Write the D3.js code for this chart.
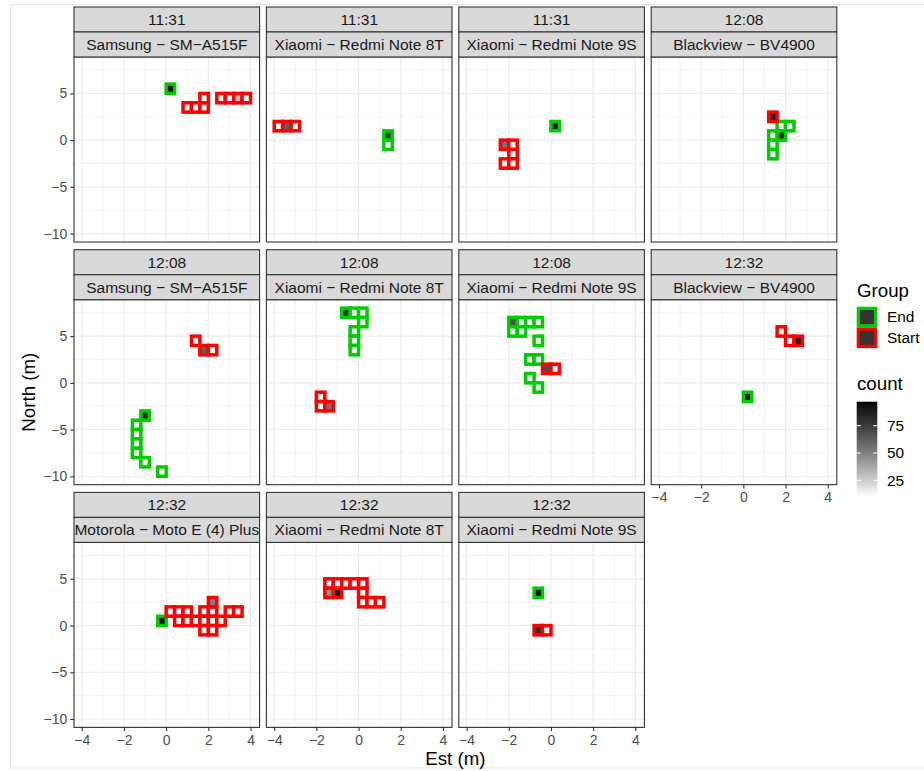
<!DOCTYPE html>
<html><head><meta charset="utf-8">
<script src="https://cdn.jsdelivr.net/npm/d3@7"></script>
<style>
body{margin:0;background:#fff}
svg{display:block}
text{font-family:"Liberation Sans",Arial,Helvetica,sans-serif}
.tick text{font-size:14px}
</style>
</head><body>
<svg id="chart" width="924" height="771"></svg>
<script>
// ---------------- DATA ----------------
const panelTimes = ["11:31","11:31","11:31","12:08","12:08","12:08","12:08","12:32","12:32","12:32","12:32"];
const panelDevices = [
  "Samsung − SM−A515F","Xiaomi − Redmi Note 8T","Xiaomi − Redmi Note 9S","Blackview − BV4900",
  "Samsung − SM−A515F","Xiaomi − Redmi Note 8T","Xiaomi − Redmi Note 9S","Blackview − BV4900",
  "Motorola − Moto E (4) Plus","Xiaomi − Redmi Note 8T","Xiaomi − Redmi Note 9S"
];
const groups = ["End","Start"];
const groupColors = ["#00CD00","#FF0000"];
const binWidthX = 0.4, binWidthY = 1;
const xTicks = [-4,-2,0,2,4];
const yTicks = [-10,-5,0,5];
const xMinor = [-3,-1,1,3];
const yMinor = [-7.5,-2.5,2.5,7.5];
const countTicks = [25,50,75];

// tiles: [x centre, y centre, count]
const end_p1 = [[0.2,5.5,97]];
const start_p1 = [[1.0,3.5,11],[1.4,3.5,10],[1.8,3.5,12],[1.8,4.5,11],[2.6,4.5,12],[3.0,4.5,11],[3.4,4.5,30],[3.8,4.5,10]];
const end_p2 = [[1.4,0.5,75],[1.4,-0.5,11]];
const start_p2 = [[-3.8,1.5,11],[-3.4,1.5,62],[-3.0,1.5,10]];
const end_p3 = [[0.2,1.5,95]];
const start_p3 = [[-2.2,-0.5,55],[-1.8,-0.5,11],[-1.8,-1.5,10],[-2.2,-2.5,12],[-1.8,-2.5,10]];
const end_p4 = [[1.8,1.5,11],[2.2,1.5,10],[1.4,0.5,12],[1.8,0.5,85],[1.4,-0.5,10],[1.4,-1.5,11]];
const start_p4 = [[1.4,2.5,90]];
const end_p5 = [[-1.0,-3.5,85],[-1.4,-4.5,10],[-1.4,-5.5,11],[-1.4,-6.5,10],[-1.4,-7.5,12],[-1.0,-8.5,10],[-0.2,-9.5,11]];
const start_p5 = [[1.4,4.5,12],[1.8,3.5,62],[2.2,3.5,11]];
const end_p6 = [[-0.6,7.5,78],[-0.2,7.5,11],[0.2,7.5,10],[0.2,6.5,12],[-0.2,5.5,10],[-0.2,4.5,11],[-0.2,3.5,10]];
const start_p6 = [[-1.8,-1.5,11],[-1.8,-2.5,10],[-1.4,-2.5,55]];
const end_p7 = [[-1.8,6.5,68],[-1.4,6.5,11],[-1.0,6.5,10],[-0.6,6.5,12],[-1.8,5.5,10],[-1.4,5.5,11],[-0.6,4.5,10],[-1.0,2.5,11],[-0.6,2.5,10],[-1.0,0.5,12],[-0.6,-0.5,10]];
const start_p7 = [[-0.2,1.5,68],[0.2,1.5,11]];
const end_p8 = [[0.2,-1.5,95]];
const start_p8 = [[1.8,5.5,11],[2.2,4.5,10],[2.6,4.5,88]];
const end_p9 = [[-0.2,0.5,97]];
const start_p9 = [[0.2,1.5,11],[0.6,1.5,10],[1.0,1.5,12],[1.8,1.5,10],[2.2,1.5,11],[3.0,1.5,10],[3.4,1.5,11],
  [0.6,0.5,10],[1.0,0.5,11],[1.4,0.5,10],[1.8,0.5,12],[2.2,0.5,10],[2.6,0.5,11],
  [1.8,-0.5,10],[2.2,-0.5,11],[2.2,2.5,50]];
const end_p10 = [];
const start_p10 = [[-1.4,4.5,11],[-1.0,4.5,10],[-0.6,4.5,12],[-0.2,4.5,10],[0.2,4.5,11],
  [-1.4,3.5,45],[-1.0,3.5,95],[0.2,3.5,10],[0.2,2.5,11],[0.6,2.5,10],[1.0,2.5,12]];
const end_p11 = [[-0.6,3.5,95]];
const start_p11 = [[-0.6,-0.5,80],[-0.2,-0.5,11]];

const endTiles = [end_p1,end_p2,end_p3,end_p4,end_p5,end_p6,end_p7,end_p8,end_p9,end_p10,end_p11];
const startTiles = [start_p1,start_p2,start_p3,start_p4,start_p5,start_p6,start_p7,start_p8,start_p9,start_p10,start_p11];

// ---------------- LAYOUT ----------------
const svg = d3.select("#chart");
const FONT = '"Liberation Sans",Arial,Helvetica,sans-serif';
const nCol = 4;
const colLeft = c => 74 + c * 192.4;
const rowTop = r => 7 + r * 242.7;
const panelW = 185.6, panelH = 185, stripH = 25;
const tileStroke = 3.5;

svg.append("rect").attr("x",10.5).attr("y",4.5).attr("width",940).attr("height",763.5)
  .attr("fill","none").attr("stroke","#e6e6e6").attr("stroke-width",1);

const x = d3.scaleLinear().domain([-4.37,4.43]).range([0,panelW]);
const y = d3.scaleLinear().domain([-10.9,8.9]).range([panelH,0]);

const allCounts = endTiles.concat(startTiles).flat().map(d=>d[2]);
const cExt = d3.extent(allCounts);
const fillScale = d3.scaleLinear().domain(cExt).range(["#ffffff","#000000"]).interpolate(d3.interpolateLab);

const nPanels = panelTimes.length;
const nRows = Math.ceil(nPanels / nCol);

panelTimes.forEach((t,i) => {
  const c = i % nCol, r = Math.floor(i / nCol);
  const px = colLeft(c), st = rowTop(r), pt = st + 2*stripH;
  const g = svg.append("g").attr("transform",`translate(${px},${pt})`);

  g.append("rect").attr("width",panelW).attr("height",panelH).attr("fill","#fff");
  g.selectAll(".vmin").data(xMinor).join("line")
    .attr("x1",d=>x(d)).attr("x2",d=>x(d)).attr("y1",0).attr("y2",panelH)
    .attr("stroke","#EBEBEB").attr("stroke-width",0.6);
  g.selectAll(".hmin").data(yMinor).join("line")
    .attr("y1",d=>y(d)).attr("y2",d=>y(d)).attr("x1",0).attr("x2",panelW)
    .attr("stroke","#EBEBEB").attr("stroke-width",0.6);
  g.selectAll(".vmaj").data(xTicks).join("line")
    .attr("x1",d=>x(d)).attr("x2",d=>x(d)).attr("y1",0).attr("y2",panelH)
    .attr("stroke","#EBEBEB").attr("stroke-width",1.1);
  g.selectAll(".hmaj").data(yTicks).join("line")
    .attr("y1",d=>y(d)).attr("y2",d=>y(d)).attr("x1",0).attr("x2",panelW)
    .attr("stroke","#EBEBEB").attr("stroke-width",1.1);

  [endTiles[i], startTiles[i]].forEach((tiles, gi) => {
    g.append("g").selectAll("rect").data(tiles).join("rect")
      .attr("x", d => x(d[0] - binWidthX/2))
      .attr("y", d => y(d[1] + binWidthY/2))
      .attr("width", d => x(d[0] + binWidthX/2) - x(d[0] - binWidthX/2))
      .attr("height", d => y(d[1] - binWidthY/2) - y(d[1] + binWidthY/2))
      .attr("fill", d => fillScale(d[2]))
      .attr("stroke", groupColors[gi])
      .attr("stroke-width", tileStroke);
  });

  g.append("rect").attr("width",panelW).attr("height",panelH)
    .attr("fill","none").attr("stroke","#333333").attr("stroke-width",1.1);

  const labels = [t, panelDevices[i]];
  labels.forEach((lab, k) => {
    const sy = st + k*stripH;
    const cid = `clip${i}_${k}`;
    svg.append("clipPath").attr("id",cid).append("rect")
      .attr("x",px).attr("y",sy).attr("width",panelW).attr("height",stripH);
    svg.append("rect").attr("x",px).attr("y",sy).attr("width",panelW).attr("height",stripH)
      .attr("fill","#D9D9D9").attr("stroke","#333333").attr("stroke-width",1.1);
    svg.append("text").attr("clip-path",`url(#${cid})`)
      .attr("x",px+panelW/2).attr("y",sy+stripH/2).attr("dy","0.35em")
      .attr("text-anchor","middle").attr("font-size",15.5).attr("fill","#1A1A1A").text(lab);
  });

  if (c === 0) {
    const ax = g.append("g").call(d3.axisLeft(y).tickValues(yTicks).tickSize(3.7).tickPadding(3));
    styleAxis(ax);
  }
  const below = i + nCol;
  if (below >= nPanels) {
    const ax = g.append("g").attr("transform",`translate(0,${panelH})`)
      .call(d3.axisBottom(x).tickValues(xTicks).tickSize(3.7).tickPadding(4));
    styleAxis(ax);
  }
});

function styleAxis(ax){
  ax.attr("font-size",14).attr("font-family",FONT);
  ax.select(".domain").remove();
  ax.selectAll(".tick line").attr("stroke","#333333").attr("stroke-width",1.1);
  ax.selectAll(".tick text").attr("fill","#4D4D4D").style("font-size","14px").style("font-family",FONT);
}

const areaL = colLeft(0), areaR = colLeft(nCol-1) + panelW;
svg.append("text").attr("x",(areaL+areaR)/2).attr("y",764.5).attr("text-anchor","middle")
  .attr("font-size",18.7).attr("fill","#000").text("Est (m)");
const areaT = rowTop(0) + 2*stripH, areaB = rowTop(nRows-1) + 2*stripH + panelH;
svg.append("text").attr("transform",`translate(35,${(areaT+areaB)/2}) rotate(-90)`)
  .attr("text-anchor","middle").attr("font-size",18.7).attr("fill","#000").text("North (m)");

const lgX = 857;
svg.append("text").attr("x",lgX).attr("y",296.5).attr("font-size",18.7).attr("fill","#000").text("Group");
const keyTop = 306.7, keyH = 20.7, keyW = 20.6;
groups.forEach((gname, k) => {
  const ky = keyTop + k*keyH;
  svg.append("rect").attr("x",lgX - 0.3 + 1.65).attr("y",ky + 1.65)
    .attr("width",keyW - 3.3).attr("height",keyH - 3.3)
    .attr("fill","#333333").attr("stroke",groupColors[k]).attr("stroke-width",3.3);
  svg.append("text").attr("x",887).attr("y",ky + keyH/2).attr("dy","0.35em")
    .attr("font-size",15.4).attr("fill","#000").text(gname);
});

svg.append("text").attr("x",lgX).attr("y",390).attr("font-size",18.7).attr("fill","#000").text("count");
const cbX = 856.7, cbW = 20.6, cbTop = 401.7, cbBot = 496.7;
const cbScale = d3.scaleLinear().domain(cExt).range([cbBot, cbTop]);
const defs = svg.append("defs");
const grad = defs.append("linearGradient").attr("id","cbgrad").attr("x1",0).attr("y1",1).attr("x2",0).attr("y2",0);
d3.range(0,1.0001,0.05).forEach(tt => {
  grad.append("stop").attr("offset",tt).attr("stop-color",fillScale(cExt[0] + tt*(cExt[1]-cExt[0])));
});
svg.append("rect").attr("x",cbX).attr("y",cbTop).attr("width",cbW).attr("height",cbBot-cbTop)
  .attr("fill","url(#cbgrad)");
countTicks.forEach(v => {
  const ty = cbScale(v);
  svg.append("line").attr("x1",cbX).attr("x2",cbX+cbW/5).attr("y1",ty).attr("y2",ty)
    .attr("stroke","#fff").attr("stroke-width",1);
  svg.append("line").attr("x1",cbX+cbW*4/5).attr("x2",cbX+cbW).attr("y1",ty).attr("y2",ty)
    .attr("stroke","#fff").attr("stroke-width",1);
  svg.append("text").attr("x",887).attr("y",ty).attr("dy","0.35em")
    .attr("font-size",15.4).attr("fill","#000").text(v);
});
</script>
</body></html>
